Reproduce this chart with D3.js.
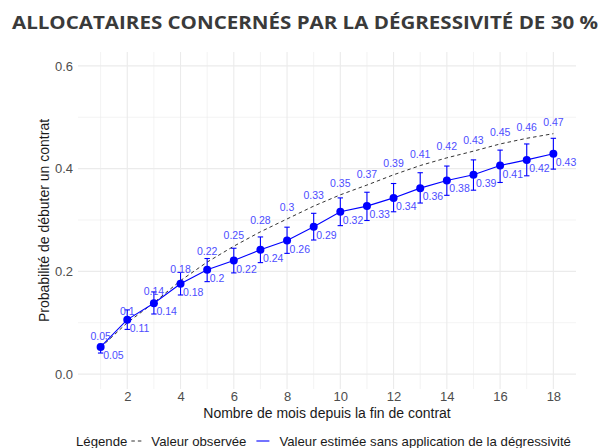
<!DOCTYPE html>
<html>
<head>
<meta charset="utf-8">
<script src="https://cdn.jsdelivr.net/npm/d3@7.9.0/dist/d3.min.js"></script>
<style>
  html, body { margin: 0; padding: 0; background: #fff; }
  svg { display: block; font-family: "Liberation Sans", Arial, sans-serif; }
</style>
</head>
<body>
<svg id="chart" width="601" height="448"></svg>
<script>
// mois depuis la fin de contrat
var months = [1, 2, 3, 4, 5, 6, 7, 8, 9, 10, 11, 12, 13, 14, 15, 16, 17, 18]
// valeur observée (pointillés)
var observed = [0.052, 0.100, 0.139, 0.182, 0.218, 0.249, 0.277, 0.302, 0.327, 0.349,
    0.368, 0.388, 0.406, 0.421, 0.434, 0.448, 0.459, 0.468]
// valeur estimée sans dégressivité + intervalle
var estimated = [0.053, 0.106, 0.138, 0.176, 0.203, 0.221, 0.242, 0.260, 0.287, 0.316,
    0.327, 0.343, 0.362, 0.377, 0.388, 0.406, 0.417, 0.429]
var lower = [0.041, 0.087, 0.117, 0.154, 0.180, 0.197, 0.217, 0.235, 0.261, 0.289,
    0.299, 0.316, 0.333, 0.348, 0.358, 0.373, 0.386, 0.399]
var upper = [0.058, 0.125, 0.160, 0.198, 0.225, 0.245, 0.267, 0.286, 0.313, 0.343,
    0.354, 0.371, 0.392, 0.405, 0.417, 0.436, 0.448, 0.459]
var xTicks = [2, 4, 6, 8, 10, 12, 14, 16, 18]
var yTicks = [0, 0.2, 0.4, 0.6]

var svg = d3.select('#chart')
var panel = { left: 78, right: 576, top: 52, bottom: 389 }

var x = d3.scaleLinear().domain([0.15, 18.85]).range([panel.left, panel.right])
var y = d3.scaleLinear().domain([-0.029, 0.627]).range([panel.bottom, panel.top])

var rows = months.map(function (m, i) {
    return { m: m, obs: observed[i], est: estimated[i], lo: lower[i], hi: upper[i] }
})
var fmt = function (v) { return String(+v.toFixed(2)) }

// grille
var grid = svg.append('g')
d3.range(1, 19).forEach(function (m) {
    grid.append('line')
        .attr('x1', x(m)).attr('x2', x(m)).attr('y1', panel.top).attr('y2', panel.bottom)
        .attr('stroke', '#ebebeb').attr('stroke-width', m % 2 === 0 ? 1.1 : 0.6)
})
;[0, 0.1, 0.2, 0.3, 0.4, 0.5, 0.6].forEach(function (v, i) {
    grid.append('line')
        .attr('x1', panel.left).attr('x2', panel.right).attr('y1', y(v)).attr('y2', y(v))
        .attr('stroke', '#ebebeb').attr('stroke-width', i % 2 === 0 ? 1.1 : 0.6)
})

// axes (texte seulement, theme_minimal)
var xAxis = svg.append('g')
    .attr('transform', 'translate(0,' + panel.bottom + ')')
    .call(d3.axisBottom(x).tickValues(xTicks).tickSize(0).tickPadding(3))
var yAxis = svg.append('g')
    .attr('transform', 'translate(' + panel.left + ',0)')
    .call(d3.axisLeft(y).tickValues(yTicks).tickSize(0).tickPadding(5).tickFormat(d3.format('.1f')))
;[xAxis, yAxis].forEach(function (a) {
    a.select('.domain').remove()
    a.selectAll('text').attr('font-size', 13).attr('fill', '#4d4d4d')
        .attr('font-family', '"Liberation Sans", Arial, sans-serif')
})
xAxis.selectAll('text').attr('dy', '0.71em')

// ligne observée
svg.append('path')
    .datum(rows)
    .attr('fill', 'none')
    .attr('stroke', '#333')
    .attr('stroke-width', 1)
    .attr('stroke-dasharray', '3.5,3')
    .attr('d', d3.line().x(function (d) { return x(d.m) }).y(function (d) { return y(d.obs) }))

// barres d'erreur
var eb = svg.append('g').attr('stroke', '#0000ff').attr('stroke-width', 1.1)
rows.forEach(function (d) {
    eb.append('line').attr('x1', x(d.m)).attr('x2', x(d.m)).attr('y1', y(d.lo)).attr('y2', y(d.hi))
    eb.append('line').attr('x1', x(d.m) - 2.7).attr('x2', x(d.m) + 2.7).attr('y1', y(d.lo)).attr('y2', y(d.lo))
    eb.append('line').attr('x1', x(d.m) - 2.7).attr('x2', x(d.m) + 2.7).attr('y1', y(d.hi)).attr('y2', y(d.hi))
})

// ligne estimée
svg.append('path')
    .datum(rows)
    .attr('fill', 'none')
    .attr('stroke', '#0000ff')
    .attr('stroke-width', 1.1)
    .attr('d', d3.line().x(function (d) { return x(d.m) }).y(function (d) { return y(d.est) }))

svg.append('g').selectAll('circle')
    .data(rows).enter().append('circle')
    .attr('cx', function (d) { return x(d.m) })
    .attr('cy', function (d) { return y(d.est) })
    .attr('r', 4)
    .attr('fill', '#0000ff')

// étiquettes
var lab = svg.append('g').attr('font-size', 10.5).attr('fill', '#4d4dff')
rows.forEach(function (d) {
    lab.append('text').attr('x', x(d.m)).attr('y', y(d.obs) - 7.5)
        .attr('text-anchor', 'middle').text(fmt(d.obs))
    lab.append('text').attr('x', x(d.m) + 2.5).attr('y', y(d.est) + 12)
        .attr('text-anchor', 'start').text(fmt(d.est))
})

// titres
svg.append('text')
    .attr('x', 12).attr('y', 29)
    .attr('font-family', '"Open Sans", Lato, sans-serif')
    .attr('font-weight', 700).attr('font-size', 17.5).attr('fill', '#3a3a3a')
    .attr('textLength', 586).attr('lengthAdjust', 'spacingAndGlyphs')
    .text('ALLOCATAIRES CONCERNÉS PAR LA DÉGRESSIVITÉ DE 30 %')

svg.append('text')
    .attr('x', (panel.left + panel.right) / 2).attr('y', 418)
    .attr('text-anchor', 'middle').attr('font-size', 14).attr('fill', '#1a1a1a')
    .text('Nombre de mois depuis la fin de contrat')

svg.append('text')
    .attr('transform', 'translate(49,' + (panel.top + panel.bottom) / 2 + ') rotate(-90)')
    .attr('text-anchor', 'middle').attr('font-size', 14).attr('fill', '#1a1a1a')
    .text('Probabilité de débuter un contrat')

// légende : placée d'après la largeur mesurée des textes
var lg = svg.append('g').attr('font-size', 13.2).attr('fill', '#1a1a1a')
var cx = 76
var t1 = lg.append('text').attr('x', cx).attr('y', 446).text('Légende')
cx += t1.node().getComputedTextLength() + 4
lg.append('line').attr('x1', cx).attr('x2', cx + 12).attr('y1', 441).attr('y2', 441)
    .attr('stroke', '#333').attr('stroke-dasharray', '3.5,3')
cx += 12 + 8
var t2 = lg.append('text').attr('x', cx).attr('y', 446).text('Valeur observée')
cx += t2.node().getComputedTextLength() + 10
lg.append('line').attr('x1', cx).attr('x2', cx + 13).attr('y1', 441).attr('y2', 441)
    .attr('stroke', '#0000ff').attr('stroke-width', 1.1)
cx += 13 + 10
lg.append('text').attr('x', cx).attr('y', 446).text('Valeur estimée sans application de la dégressivité')
</script>
</body>
</html>
